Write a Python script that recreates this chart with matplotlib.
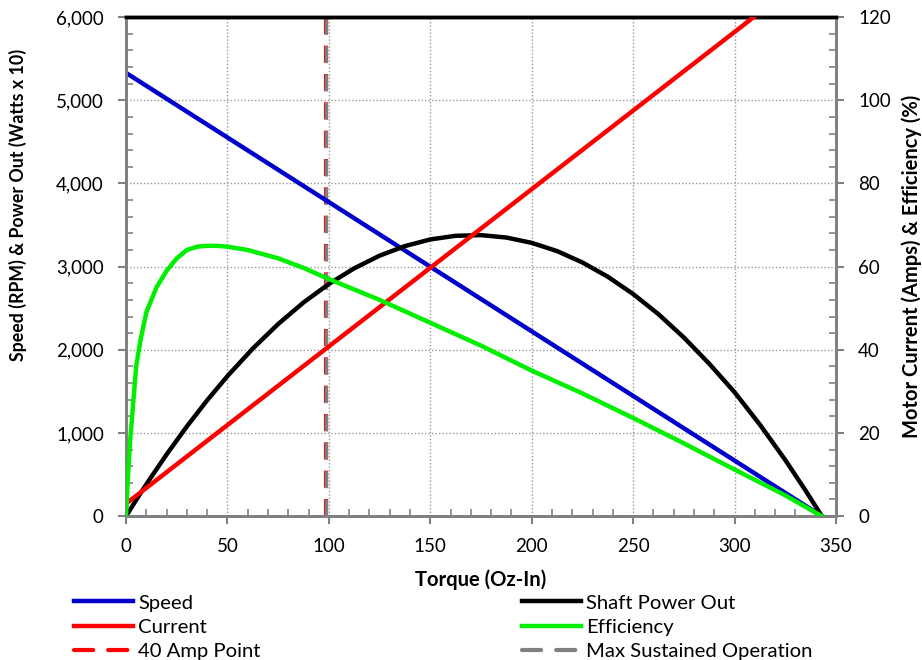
import matplotlib
matplotlib.use("Agg")
from matplotlib import pyplot as plt
from matplotlib.lines import Line2D
from matplotlib.ticker import MultipleLocator, FuncFormatter

plt.rcParams['font.family'] = ['Lato', 'DejaVu Sans']
plt.rcParams['font.size'] = 13.5

# speed (rpm) is a straight line from no-load to stall
speed_torque = [0, 343]
speed = [5330, 0]
# motor current (amps), straight line too
current_torque = [0, 343]
current = [3.0, 132.7]
# shaft power out (watts x 10)
power_torque = [0, 5, 10, 20, 30, 40, 50, 62.5, 75, 87.5, 100, 112.5, 125, 137.5,
                150, 162.5, 175, 187.5, 200, 212.5, 225, 237.5, 250, 262.5, 275,
                287.5, 300, 312.5, 325, 335, 343]
power = [0, 194, 383, 742, 1079, 1393, 1684, 2015, 2310, 2569, 2792, 2980, 3132,
         3247, 3327, 3371, 3379, 3350, 3286, 3187, 3050, 2879, 2671, 2428, 2148,
         1833, 1490, 1100, 675, 308, 0]
# efficiency (%)
eff_torque = [0, 1, 2, 3, 5, 7, 10, 15, 20, 25, 30, 35, 40, 45, 50, 60, 75, 87.5,
              100, 125, 150, 175, 200, 225, 250, 275, 300, 325, 343]
efficiency = [0, 10, 18, 24, 36, 42, 49, 55, 59, 62, 64, 64.8, 65, 65, 64.8, 64,
              62, 59.7, 57, 52, 46.5, 41, 35, 29.5, 23.6, 17.5, 11.2, 5, 0]

amp_point = 98.4
max_sustained = 98.7

fig = plt.figure(figsize=(9.22, 6.6), dpi=100)
ax = fig.add_axes([0.1367, 0.218, 0.77, 0.756])
ax2 = ax.twinx()

ax.grid(True, which='major', color='#999999', linestyle=(0, (1, 1.5)), linewidth=1)
ax.set_axisbelow(True)

l1, = ax.plot(speed_torque, speed, color='#0000cc', lw=3.2, zorder=3)
l2, = ax.plot(power_torque, power, color='black', lw=3.2, zorder=3, solid_joinstyle='round')
ax.axvline(amp_point, color='#ff0000', lw=3.0, dashes=(4.08, 2.72), zorder=2)
ax.axvline(max_sustained, color='#808080', lw=2.4, dashes=(5.1, 3.4), zorder=2.5)
l3, = ax2.plot(current_torque, current, color='#ff0000', lw=3.2, zorder=3)
l4, = ax2.plot(eff_torque, efficiency, color='#00ee00', lw=3.2, zorder=3,
               solid_joinstyle='round')

# legend handles for the dashed markers
l5 = Line2D([], [], color='#ff0000', lw=3.0, dashes=(4.6, 3.6), dash_capstyle='round')
l6 = Line2D([], [], color='#808080', lw=3.0, dashes=(4.6, 3.6), dash_capstyle='round')

ax.set_xlim(0, 350)
ax.set_ylim(0, 6000)
ax2.set_ylim(0, 120)

ax.xaxis.set_major_locator(MultipleLocator(50))
ax.xaxis.set_minor_locator(MultipleLocator(10))
ax.yaxis.set_major_locator(MultipleLocator(1000))
ax.yaxis.set_minor_locator(MultipleLocator(200))
ax2.yaxis.set_major_locator(MultipleLocator(20))
ax2.yaxis.set_minor_locator(MultipleLocator(4))
ax.yaxis.set_major_formatter(FuncFormatter(lambda v, p: f"{int(v):,}"))

for a in (ax, ax2):
    a.tick_params(which='major', direction='out', length=6, width=1.5, color='#808080', pad=10)
    a.tick_params(which='minor', direction='in', length=5, width=1.2, color='#808080')
    for s in ('left', 'right', 'bottom'):
        a.spines[s].set_color('#808080')
        a.spines[s].set_linewidth(2)
    a.spines['top'].set_color('black')
    a.spines['top'].set_linewidth(2.5)

ax.set_xlabel('Torque (Oz-In)', fontweight='bold', fontsize=14.6)
ax.xaxis.set_label_coords(0.5, (516 - 580) / 499)
ax.xaxis.label.set_va('center')
ax.set_ylabel('Speed (RPM) & Power Out (Watts x 10)', fontweight='bold', fontsize=12.8)
ax.yaxis.set_label_coords(-0.152, 0.623)
ax.yaxis.label.set_va('center')
ax2.set_ylabel('Motor Current (Amps) & Efficiency (%)', fontweight='bold', fontsize=14.5)
ax2.yaxis.set_label_coords(1.106, 0.501)
ax2.yaxis.label.set_va('center')

leg_kw = dict(loc='upper left', frameon=False, fontsize=14.6, handlelength=2.9,
              handletextpad=0.25, labelspacing=0.35, borderaxespad=0, borderpad=0)
fig.legend([l1, l3, l5], ['Speed', 'Current', '40 Amp Point'],
           bbox_to_anchor=(74 / 922, 0.0995), **leg_kw)
fig.legend([l2, l4, l6], ['Shaft Power Out', 'Efficiency', 'Max Sustained Operation'],
           bbox_to_anchor=(522 / 922, 0.0995), **leg_kw)

fig.savefig('out.png', dpi=100)
